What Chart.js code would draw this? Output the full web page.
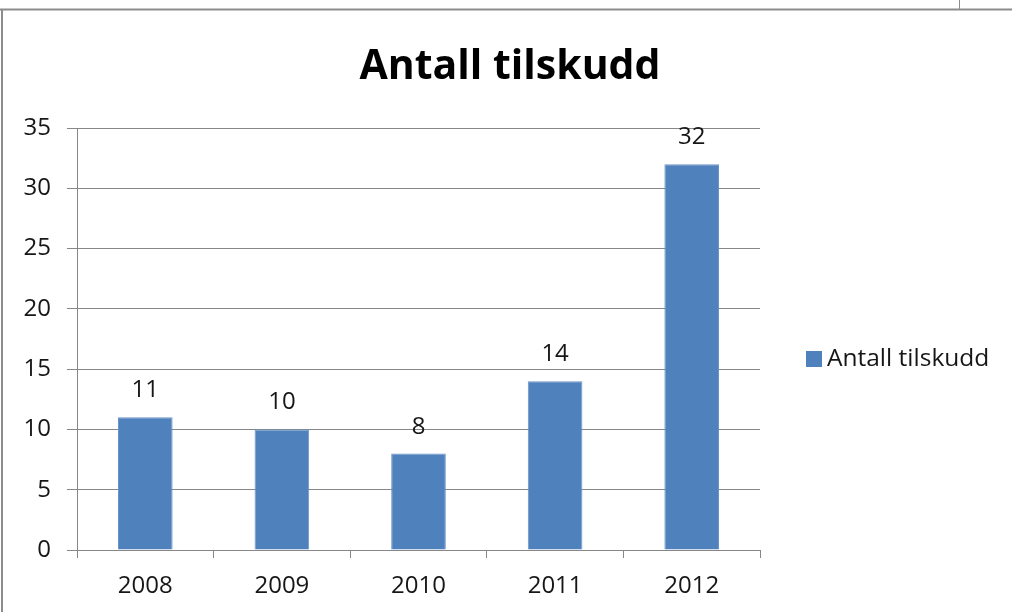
<!DOCTYPE html>
<html>
<head>
<meta charset="utf-8">
<script src="https://cdn.jsdelivr.net/npm/chart.js@4/dist/chart.umd.min.js"></script>
<style>
html,body{margin:0;padding:0;background:#fff;}
#wrap{width:1012px;height:612px;position:relative;}
</style>
</head>
<body>
<div id="wrap"><canvas id="c" width="1012" height="612"></canvas></div>
<script>
const titleText = "Antall tilskudd";
const categories = ["2008", "2009", "2010", "2011", "2012"];
const seriesName = "Antall tilskudd";
const seriesValues = [11, 10, 8, 14, 32];
const yTicks = [0, 5, 10, 15, 20, 25, 30, 35];

const FONT = "'Open Sans', 'Noto Sans', sans-serif";
const BAR = "#4F81BD";
const GRID = "#878787";
const TEXT = "#161616";

const decor = {
  id: "decor",
  beforeDraw(chart) {
    const ctx = chart.ctx;
    ctx.save();
    ctx.fillStyle = "#fff";
    ctx.fillRect(0, 0, chart.width, chart.height);
    ctx.strokeStyle = "#8c8c8c";
    ctx.lineWidth = 2;
    ctx.beginPath();
    ctx.moveTo(0, 9.5); ctx.lineTo(1012, 9.5);
    ctx.moveTo(2, 9.5); ctx.lineTo(2, 612);
    ctx.stroke();
    ctx.lineWidth = 1;
    ctx.beginPath();
    ctx.moveTo(959.5, 0); ctx.lineTo(959.5, 9);
    ctx.stroke();
    ctx.restore();
  },
  afterDraw(chart) {
    const ctx = chart.ctx;
    ctx.save();
    ctx.fillStyle = "#000";
    ctx.font = "bold 41px " + FONT;
    ctx.textAlign = "center";
    ctx.textBaseline = "alphabetic";
    ctx.fillText(titleText, 510, 79);
    ctx.font = "24px " + FONT;
    ctx.fillStyle = TEXT;
    const meta = chart.getDatasetMeta(0);
    meta.data.forEach((bar, i) => {
      ctx.fillText(String(chart.data.datasets[0].data[i]), bar.x, bar.y - 20);
    });
    ctx.fillStyle = BAR;
    ctx.fillRect(806, 351, 16, 16);
    ctx.fillStyle = TEXT;
    ctx.textAlign = "left";
    ctx.textBaseline = "middle";
    ctx.font = "24.5px " + FONT;
    ctx.fillText(chart.data.datasets[0].label, 827, 359);
    ctx.restore();
  }
};

new Chart(document.getElementById("c"), {
  type: "bar",
  data: {
    labels: categories,
    datasets: [{
      label: seriesName,
      data: seriesValues,
      backgroundColor: BAR,
      borderColor: "#6a95c8",
      borderWidth: 1,
      categoryPercentage: 1,
      barPercentage: 0.4
    }]
  },
  options: {
    responsive: false,
    animation: false,
    devicePixelRatio: 1,
    layout: { padding: { left: 0, right: 252, top: 128, bottom: 0 } },
    plugins: { legend: { display: false }, title: { display: false }, tooltip: { enabled: false } },
    scales: {
      y: {
        min: 0, max: 35,
        afterBuildTicks(axis) { axis.ticks = yTicks.map(v => ({ value: v })); },
        afterFit(axis) { axis.width = 77; },
        ticks: { font: { size: 24, family: FONT }, color: TEXT, padding: 16 },
        grid: { color: GRID, lineWidth: 1, tickLength: 10, drawTicks: true },
        border: { color: GRID, width: 1 }
      },
      x: {
        afterFit(axis) { axis.height = 62; },
        ticks: { font: { size: 24, family: FONT }, color: TEXT, padding: 14 },
        grid: { offset: true, drawOnChartArea: false, drawTicks: true, tickLength: 8, color: GRID },
        border: { color: GRID, width: 1 }
      }
    }
  },
  plugins: [decor]
});
</script>
</body>
</html>
